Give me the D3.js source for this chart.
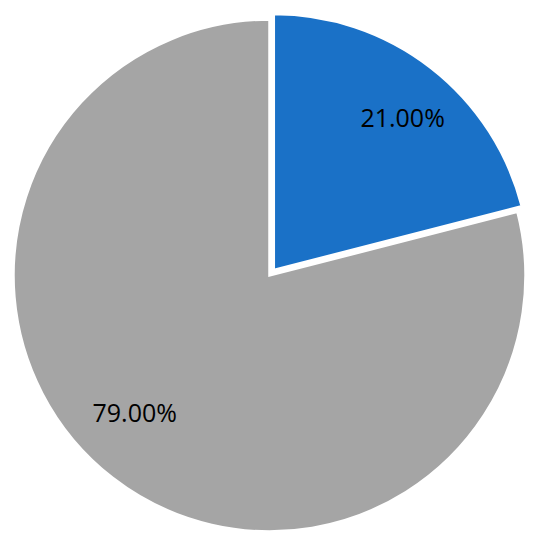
<!DOCTYPE html>
<html>
<head>
<meta charset="utf-8">
<script src="https://cdn.jsdelivr.net/npm/d3@7"></script>
<style>
  body { margin: 0; background: #fff; }
  text { font-family: "Open Sans", "Noto Sans", sans-serif; }
</style>
</head>
<body>
<div id="chart"></div>
<script>
// data
var categories = ["A", "B"];
var values = [21, 79];
var labels = ["21.00%", "79.00%"];
var colors = ["#1a71c7", "#a5a5a5"];

var svgWidth = 545;
var svgHeight = 550;
var cx = 269.5, cy = 275.5;
var radius = 256;
var explode = [7, 0];
// label nudges (best-fit placement like the original)
var nudge = [[8, 4.5], [-14, -18]];

var svg = d3.select("#chart")
  .append("svg")
  .attr("width", svgWidth)
  .attr("height", svgHeight);

var chartGroup = svg.append("g")
  .attr("transform", `translate(${cx}, ${cy})`);

var pie = d3.pie().sort(null).value(d => d);
var arcs = pie(values);

var arc = d3.arc().innerRadius(0).outerRadius(radius);
var labelArc = d3.arc().innerRadius(radius * 0.77).outerRadius(radius * 0.77);

function offset(d, i) {
  var mid = (d.startAngle + d.endAngle) / 2;
  return [Math.sin(mid) * explode[i], -Math.cos(mid) * explode[i]];
}

var slices = chartGroup.selectAll("g.slice")
  .data(arcs)
  .enter()
  .append("g")
  .attr("class", "slice")
  .attr("transform", (d, i) => {
    var o = offset(d, i);
    return `translate(${o[0]}, ${o[1]})`;
  });

slices.append("path")
  .attr("d", arc)
  .attr("fill", (d, i) => colors[i])
  .attr("stroke", "#fff")
  .attr("stroke-width", 2.5)
  .attr("stroke-linejoin", "miter");

slices.append("text")
  .attr("transform", (d, i) => {
    var c = labelArc.centroid(d);
    return `translate(${c[0] + nudge[i][0]}, ${c[1] + nudge[i][1]})`;
  })
  .attr("text-anchor", "middle")
  .attr("dy", "0.35em")
  .attr("font-size", 25)
  .attr("fill", "#000")
  .text((d, i) => labels[i]);
</script>
</body>
</html>
